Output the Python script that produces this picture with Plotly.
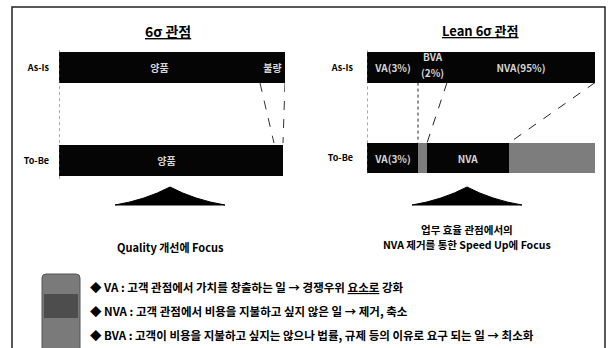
import plotly.graph_objects as go

W, H = 609, 348
FONT = "Noto Sans CJK KR"

# ---- data ----
rows = ["As-Is", "To-Be"]
# left panel (6σ): visual segment widths
left_good = [201, 215]
left_bad = [25, 9]
left_good_text = ["양품", "양품"]
left_bad_text = ["불량", ""]
# right panel (Lean 6σ): visual segment widths
right_va = [51, 51]
right_bva = [29, 9]
right_nva = [148, 82]
right_removed = [0, 86]
right_va_text = ["VA(3%)", "VA(3%)"]
right_bva_lines = ["BVA", "(2%)"]
right_nva_text = ["NVA(95%)", "NVA"]

titles = ["<u>6σ 관점</u>", "<u>Lean 6σ 관점</u>"]
focus_left = "Quality 개선에 Focus"
focus_right = ["업무 효율 관점에서의", "NVA 제거를 통한 Speed Up에 Focus"]
bullets = [
    "◆ VA : 고객 관점에서 가치를 창출하는 일 → 경쟁우위 <u>요소로</u> 강화",
    "◆ NVA : 고객 관점에서 비용을 지불하고 싶지 않은 일 → 제거, 축소",
    "◆ BVA : 고객이 비용을 지불하고 싶지는 않으나 법률, 규제 등의 이유로 요구 되는 일 → 최소화",
]

BLACK = "#050505"
GRAY = "#7d7d7d"
TXT = "#d6d6d6"


def px(x):
    return x / W


def py(y):
    return 1 - y / H


BW = 0.335  # bar thickness in category units

fig = go.Figure()


def add_seg(x, text, color, xa, ya):
    fig.add_trace(go.Bar(
        y=rows, x=x, orientation="h", text=text, width=BW,
        marker=dict(color=color, line=dict(width=0)),
        textposition="inside", insidetextanchor="middle", textangle=0,
        textfont=dict(family=FONT, size=10, color=TXT, weight="bold"),
        xaxis=xa, yaxis=ya, showlegend=False, hoverinfo="skip",
    ))


add_seg(left_good, left_good_text, BLACK, "x", "y")
add_seg(left_bad, left_bad_text, BLACK, "x", "y")
add_seg(right_va, right_va_text, BLACK, "x2", "y2")
add_seg(right_bva, ["", ""], [BLACK, GRAY], "x2", "y2")
add_seg(right_nva, right_nva_text, BLACK, "x2", "y2")
add_seg(right_removed, ["", ""], GRAY, "x2", "y2")

left_total = max(a + b for a, b in zip(left_good, left_bad))
right_total = max(a + b + c + d for a, b, c, d in zip(right_va, right_bva, right_nva, right_removed))

yax = dict(type="category", categoryorder="array", categoryarray=rows,
           range=[1.5, -0.5], showgrid=False, zeroline=False, showline=False,
           ticks="", tickfont=dict(family=FONT, size=9, color="black", weight="bold"))
fig.update_layout(
    width=W, height=H, margin=dict(l=0, r=0, t=0, b=0),
    paper_bgcolor="white", plot_bgcolor="rgba(0,0,0,0)",
    barmode="stack",
    uniformtext=dict(mode="show", minsize=10),
    xaxis=dict(domain=[px(59), px(285)], range=[0, left_total], visible=False, anchor="y"),
    xaxis2=dict(domain=[px(367), px(595)], range=[0, right_total], visible=False, anchor="y2"),
    yaxis=dict(domain=[py(207), py(21)], anchor="x", ticklabelstandoff=9, **yax),
    yaxis2=dict(domain=[py(203.5), py(22)], anchor="x2", ticklabelstandoff=13, **yax),
)

shapes = []
# outer frame
shapes.append(dict(type="rect", xref="paper", yref="paper", x0=px(12), x1=px(605),
                   y0=-0.1, y1=py(7), line=dict(color="#222", width=1.5)))

lo, hi = BW / 2, 1 - BW / 2
# left edge dotted lines
for xa, ya in (("x", "y"), ("x2", "y2")):
    shapes.append(dict(type="line", xref=xa, yref=ya, x0=0, x1=0, y0=-BW / 2 - 0.02,
                       y1=1 + BW / 2 + 0.03, line=dict(color="#555", width=1, dash="dot")))

# left connectors
lb = [left_good[0], left_good[0] + left_bad[0]]
lt = [left_good[1], left_good[1] + left_bad[1]]
for a, b in zip(lb, lt):
    shapes.append(dict(type="line", xref="x", yref="y", x0=a, x1=b, y0=lo, y1=hi - 0.02,
                       line=dict(color="#333", width=1, dash="dash")))

# right connectors
ra = [right_va[0], right_va[0] + right_bva[0], right_va[0] + right_bva[0] + right_nva[0]]
rt = [right_va[1], right_va[1] + right_bva[1], right_va[1] + right_bva[1] + right_nva[1]]
dashes = ["dot", "dash", "dash"]
for a, b, d in zip(ra, rt, dashes):
    shapes.append(dict(type="line", xref="x2", yref="y2", x0=a, x1=b, y0=lo, y1=hi,
                       line=dict(color="#222", width=1, dash=d)))


# triangles (slightly concave sides)
def tri(cx, half, top, base):
    return (f"M {px(cx - half)},{py(base)} Q {px(cx - half * 0.45)},{py(base - 5)} {px(cx)},{py(top)} "
            f"Q {px(cx + half * 0.45)},{py(base - 5)} {px(cx + half)},{py(base)} Z")


for cx in (170, 467):
    shapes.append(dict(type="path", xref="paper", yref="paper", path=tri(cx, 55, 187, 205),
                       fillcolor="black", line=dict(color="black", width=1)))

# legend box (rounded)
x0, x1, y0, y1, r = 42, 80, 274, 352, 4
path = (f"M {px(x0 + r)},{py(y0)} L {px(x1 - r)},{py(y0)} Q {px(x1)},{py(y0)} {px(x1)},{py(y0 + r)} "
        f"L {px(x1)},{py(y1)} L {px(x0)},{py(y1)} L {px(x0)},{py(y0 + r)} Q {px(x0)},{py(y0)} {px(x0 + r)},{py(y0)} Z")
shapes.append(dict(type="path", xref="paper", yref="paper", path=path,
                   fillcolor="#7a7a7a", line=dict(color="#555", width=1)))
shapes.append(dict(type="rect", xref="paper", yref="paper", x0=px(44), x1=px(78),
                   y0=py(318), y1=py(294), fillcolor="#4d4d4d", line=dict(width=0)))

fig.update_layout(shapes=shapes)

ann = []
# BVA label on As-Is bar (two lines, placed from data)
bva_center = right_va[0] + right_bva[0] / 2
for t, dy in zip(right_bva_lines, (-0.12, 0.06)):
    ann.append(dict(text=t, x=bva_center, y=0 + dy, xref="x2", yref="y2", showarrow=False,
                    font=dict(family=FONT, size=10, color=TXT, weight="bold"),
                    xanchor="center", yanchor="middle", borderpad=0))
for t, cx, fs in zip(titles, (168, 480), (14, 13)):
    ann.append(dict(text=t, x=px(cx), y=py(31), xref="paper", yref="paper", showarrow=False,
                    font=dict(family=FONT, size=fs, color="black", weight="bold"),
                    xanchor="center", yanchor="middle"))
ann.append(dict(text=focus_left, x=px(170), y=py(247), xref="paper", yref="paper", showarrow=False,
                font=dict(family=FONT, size=11, color="black", weight="bold"),
                xanchor="center", yanchor="middle"))
for t, yy in zip(focus_right, (229.5, 245)):
    ann.append(dict(text=t, x=px(467), y=py(yy), xref="paper", yref="paper", showarrow=False,
                    font=dict(family=FONT, size=10.5, color="black", weight="bold"),
                    xanchor="center", yanchor="middle", align="center", borderpad=0))
for t, yy in zip(bullets, (287, 311, 335)):
    ann.append(dict(text=t, x=px(88), y=py(yy), xref="paper", yref="paper", showarrow=False,
                    font=dict(family=FONT, size=11.5, color="black", weight="bold"),
                    xanchor="left", yanchor="middle", align="left"))
fig.update_layout(annotations=ann)

fig.write_html("out.html")
